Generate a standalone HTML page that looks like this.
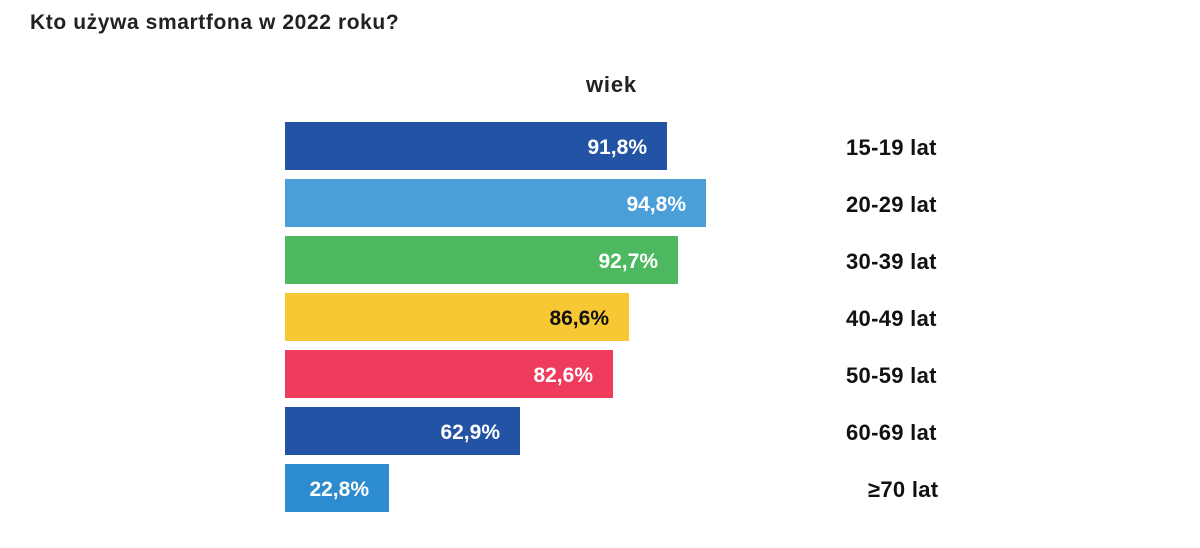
<!DOCTYPE html>
<html><head><meta charset="utf-8"><style>
body{margin:0;width:1200px;height:548px;background:#fff;font-family:"Liberation Sans",sans-serif;position:relative;overflow:hidden}
.t{position:absolute;left:30px;top:11px;font-size:21px;font-weight:bold;color:#222;letter-spacing:0.6px}
.w{position:absolute;left:586px;top:72px;font-size:22px;font-weight:bold;color:#222;letter-spacing:0.8px}
.b{position:absolute;left:285px;height:48px;box-sizing:border-box;padding-right:20px;text-align:right;line-height:52px;font-size:21px;font-weight:bold;color:#fff}
.l{position:absolute;left:846px;font-size:22px;font-weight:bold;color:#111;line-height:52px;letter-spacing:0.3px}
</style></head><body>
<div class="t">Kto używa smartfona w 2022 roku?</div>
<div class="w">wiek</div>
<div class="b" style="top:122px;width:382px;background:#2353a5">91,8%</div>
<div class="b" style="top:179px;width:421px;background:#4a9fd9">94,8%</div>
<div class="b" style="top:236px;width:393px;background:#4cb960">92,7%</div>
<div class="b" style="top:293px;width:344px;background:#f7c734;color:#111">86,6%</div>
<div class="b" style="top:350px;width:328px;background:#ef3b5c">82,6%</div>
<div class="b" style="top:407px;width:235px;background:#2353a5">62,9%</div>
<div class="b" style="top:464px;width:104px;background:#2d8ccf">22,8%</div>
<div class="l" style="top:122px">15-19 lat</div>
<div class="l" style="top:179px">20-29 lat</div>
<div class="l" style="top:236px">30-39 lat</div>
<div class="l" style="top:293px">40-49 lat</div>
<div class="l" style="top:350px">50-59 lat</div>
<div class="l" style="top:407px">60-69 lat</div>
<div class="l" style="top:464px;left:868px">≥70 lat</div>
</body></html>
